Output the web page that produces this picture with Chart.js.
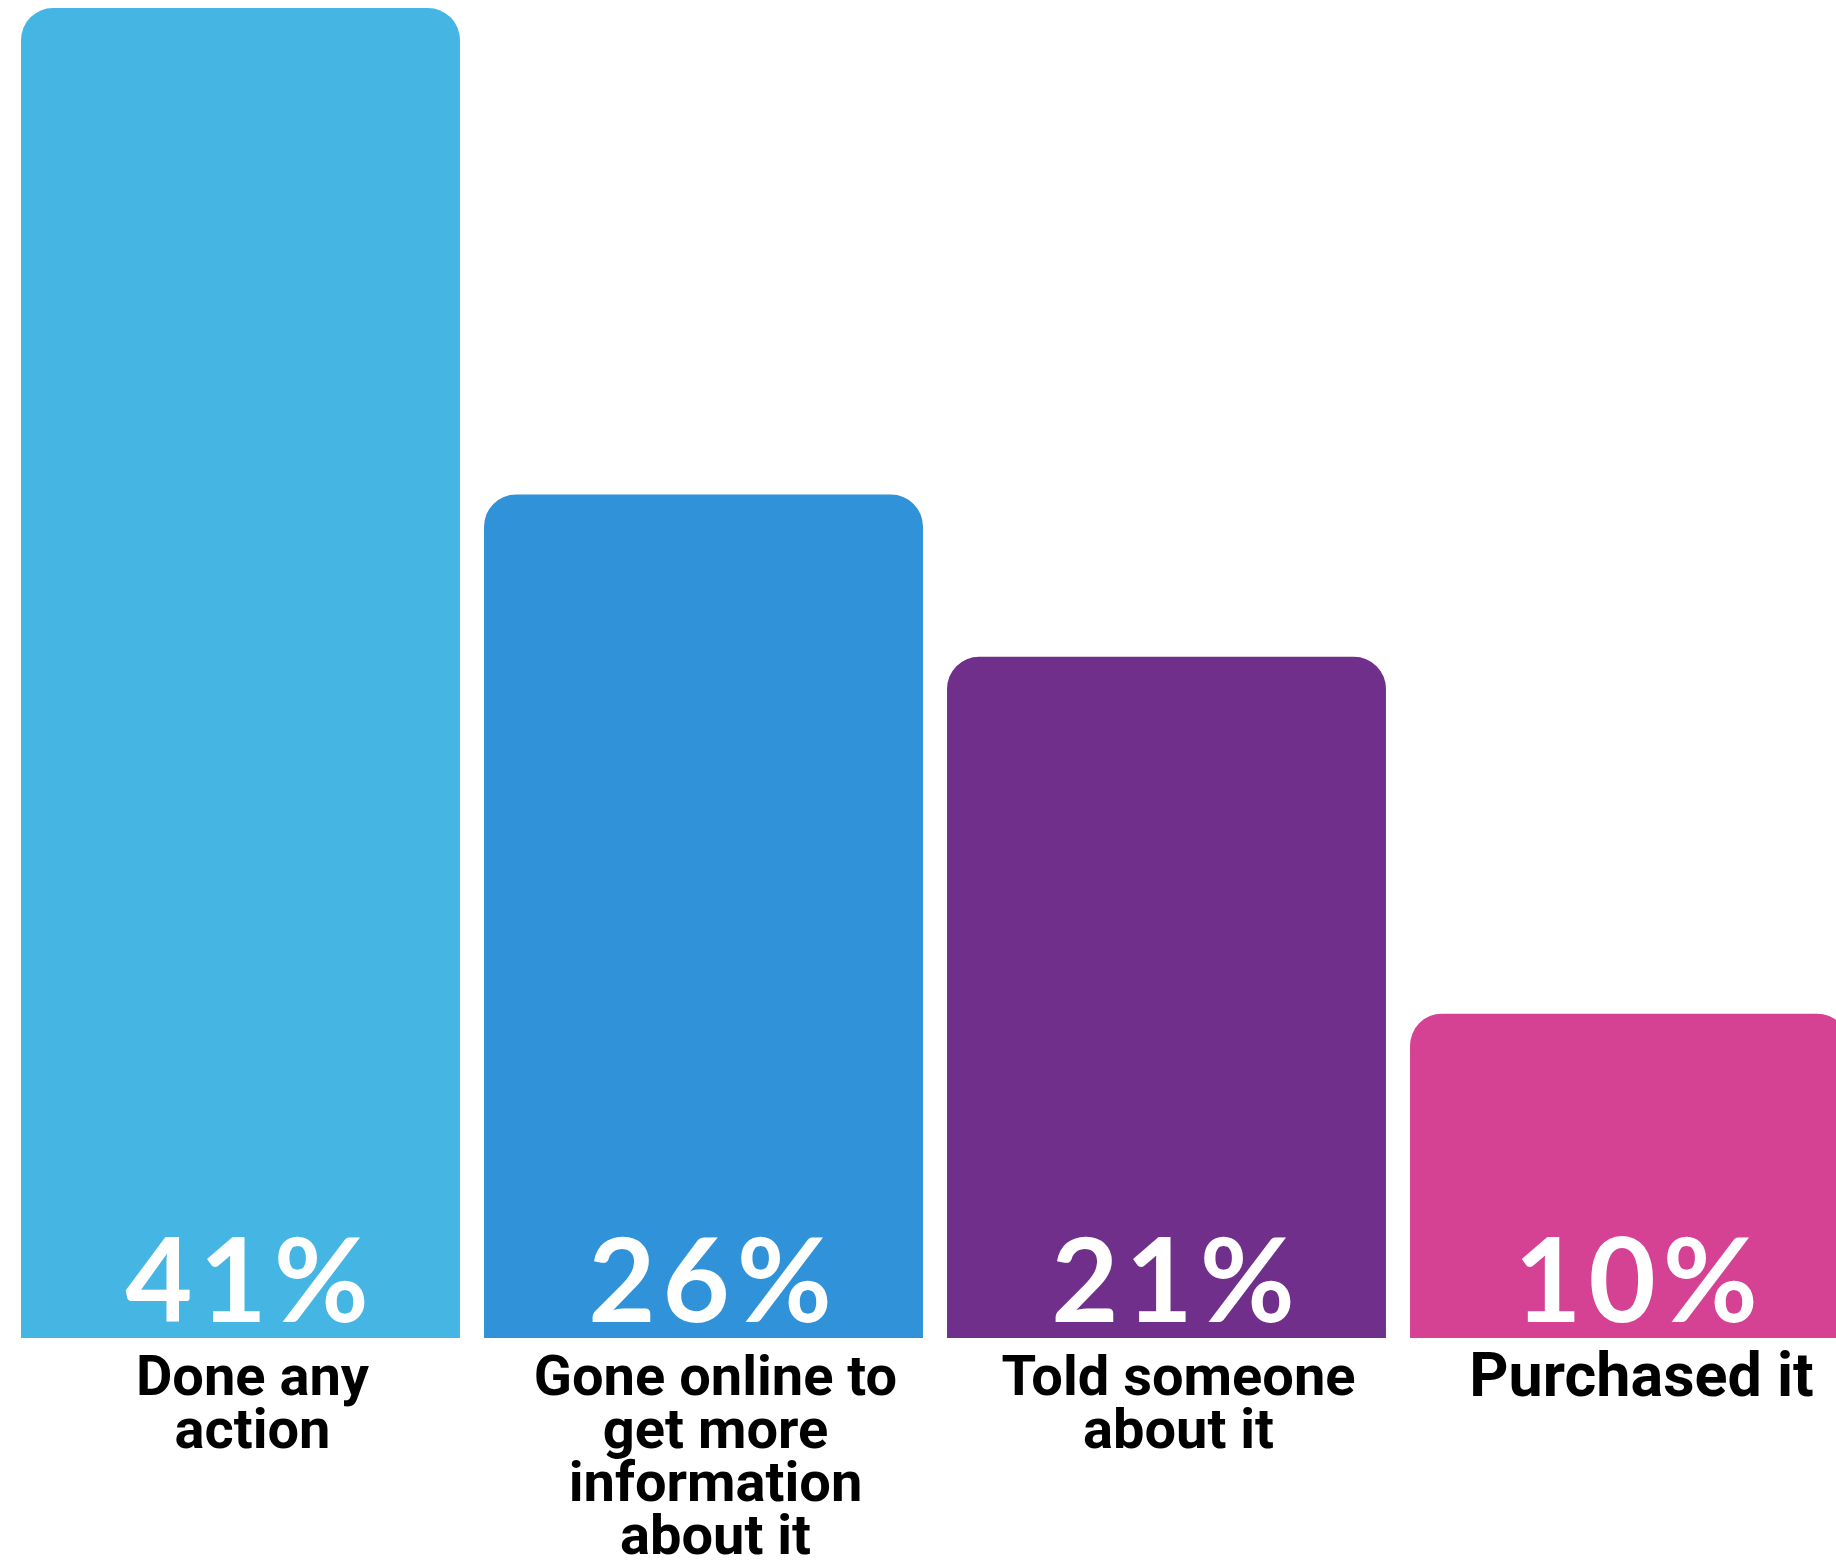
<!DOCTYPE html>
<html>
<head>
<meta charset="utf-8">
<script src="https://cdn.jsdelivr.net/npm/chart.js@4"></script>
<style>
  html, body { margin: 0; padding: 0; background: #fff; overflow: hidden; }
  #wrap { position: relative; width: 1870px; height: 1582px; }
</style>
</head>
<body>
<div id="wrap"><canvas id="chart"></canvas></div>
<script>
// categories and values
const categories = [
  ["Done any", "action"],
  ["Gone online to", "get more", "information", "about it"],
  ["Told someone", "about it"],
  ["Purchased it"]
];
const values = [41, 26, 21, 10];
const barColors = ["#45B5E4", "#3093DA", "#702F8A", "#D64293"];

// white percentage inside each bar, near the bottom
const valueLabels = {
  id: "valueLabels",
  afterDatasetsDraw(chart) {
    const ctx = chart.ctx;
    const meta = chart.getDatasetMeta(0);
    ctx.save();
    ctx.fillStyle = "#fff";
    ctx.font = "bold 116px Lato";
    ctx.letterSpacing = "7px";
    ctx.textAlign = "center";
    ctx.textBaseline = "alphabetic";
    meta.data.forEach((bar, i) => {
      ctx.fillText(values[i] + "%", bar.x + 10, bar.base - 16);
    });
    ctx.restore();
  }
};

const ctx = document.getElementById("chart").getContext("2d");
const chart = new Chart(ctx, {
  type: "bar",
  data: {
    labels: categories,
    datasets: [{
      data: values,
      backgroundColor: barColors,
      borderWidth: 0,
      borderSkipped: "bottom",
      borderRadius: { topLeft: 32, topRight: 32, bottomLeft: 0, bottomRight: 0 },
      barPercentage: 0.948,
      categoryPercentage: 1
    }]
  },
  options: {
    responsive: true,
    maintainAspectRatio: false,
    animation: false,
    layout: { padding: { top: 8, left: 9, right: 9, bottom: 0 } },
    plugins: {
      legend: { display: false },
      tooltip: { enabled: false }
    },
    scales: {
      y: {
        display: false,
        min: 0,
        max: 41
      },
      x: {
        grid: { display: false, drawTicks: false },
        border: { display: false },
        ticks: {
          color: "#000",
          padding: 16,
          labelOffset: 12,
          maxRotation: 0,
          autoSkip: false,
          // the last label is set a little larger in the original
          font: (c) => ({
            family: "Roboto",
            weight: "bold",
            size: c.index === 3 ? 61 : 56,
            lineHeight: c.index === 3 ? 0.87 : 0.946
          })
        }
      }
    }
  },
  plugins: [valueLabels]
});
</script>
</body>
</html>
